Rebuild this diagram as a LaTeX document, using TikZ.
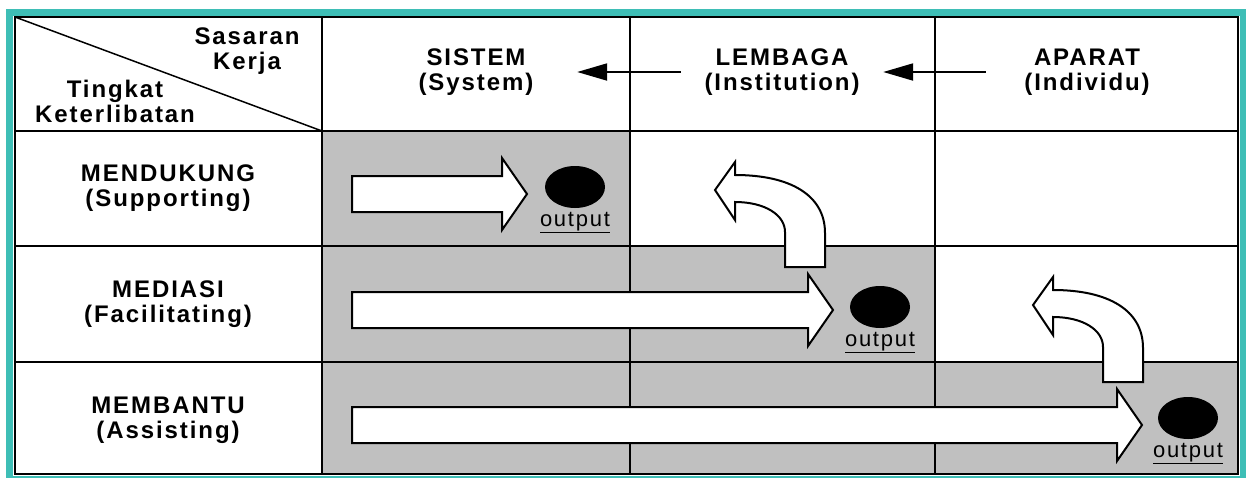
\documentclass[tikz,border=0pt]{standalone}
\usepackage{fontspec}
\setmainfont{Liberation Sans}[LetterSpace=8]
\usetikzlibrary{arrows.meta,positioning,shapes.geometric}

\definecolor{frameteal}{RGB}{62,190,182}
\definecolor{cellgray}{RGB}{192,192,192}

\tikzset{
  hdr/.style={font=\bfseries\fontsize{24}{25}\selectfont, align=center, inner sep=0pt},
  colhdr/.style={hdr, minimum width=202pt},
  dot/.style={ellipse, fill=black, minimum width=60pt, minimum height=42pt, inner sep=0pt},
  outlbl/.style={font=\fontsize{22}{24}\selectfont, inner sep=0pt},
  blockarr/.style={draw=black, fill=white, line width=2pt, line join=miter},
  hdrarrow/.style={line width=2pt, -{Triangle[length=30pt,width=17pt]}},
  gridline/.style={line width=2.5pt}
}

% straight block arrow: tail x, tip x, middle y
\newcommand{\blockarrow}[3]{%
  \draw[blockarr] (#1,#3-18) -- (#2-25,#3-18) -- (#2-25,#3-36) -- (#2,#3)
    -- (#2-25,#3+36) -- (#2-25,#3+18) -- (#1,#3+18) -- cycle;}

% bent block arrow, placed by its tip
\newcommand{\bentarrow}[2]{%
  \begin{scope}[shift={(#1,#2)}]
    \draw[blockarr] (20,-15) .. controls (75,-15) and (110,5) .. (110,43)
      -- (110,77) -- (70,77) -- (70,42) .. controls (70,25) and (50,12) .. (20,12)
      -- (20,30) -- (0,0) -- (20,-28) -- cycle;
  \end{scope}}

\begin{document}
\begin{tikzpicture}[x=1pt, y=-1pt]
    \useasboundingbox (0,0) rectangle (1246,477);

    % shaded cells
    \fill[cellgray] (322,131) rectangle (630,246);
    \fill[cellgray] (322,246) rectangle (935,362);
    \fill[cellgray] (322,362) rectangle (1238,474);

    % table
    \draw[frameteal, line width=7pt] (9.5,12) rectangle (1243,479);
    \draw[gridline] (15,17) rectangle (1238,474);
    \foreach \x in {322,630,935}
        \draw[gridline] (\x,17) -- (\x,474);
    \foreach \y in {131,246,362}
        \draw[gridline] (15,\y) -- (1238,\y);
    \draw[line width=1.5pt] (15,17) -- (322,131);

    % headings
    \node[hdr] (sasaran) at (247,51) {Sasaran\\Kerja};
    \node[hdr] (tingkat) at (115,101) {Tingkat\\Keterlibatan};
    \node[colhdr] (sistem) at (476,72) {SISTEM\\(System)};
    \node[colhdr] (lembaga) at (782,72) {LEMBAGA\\(Institution)};
    \node[colhdr] (aparat) at (1087,72) {APARAT\\(Individu)};
    \node[hdr] (mendukung) at (168,188) {MENDUKUNG\\(Supporting)};
    \node[hdr] (mediasi) at (168,304) {MEDIASI\\(Facilitating)};
    \node[hdr] (membantu) at (168,420) {MEMBANTU\\(Assisting)};

    \draw[hdrarrow] (lembaga.west) -- (sistem.east);
    \draw[hdrarrow] (aparat.west) -- (lembaga.east);

    % arrows
    \blockarrow{352}{527}{194}
    \blockarrow{352}{833}{310}
    \blockarrow{352}{1142}{425}
    \bentarrow{715}{190}
    \bentarrow{1033}{305}

    % outputs
    \node[dot] (dot1) at (575,187) {};
    \node[dot] (dot2) at (880,307) {};
    \node[dot] (dot3) at (1188,418) {};
    \node[outlbl, below=4pt of dot1] (out1) {\underline{output}};
    \node[outlbl, below=4pt of dot2] (out2) {\underline{output}};
    \node[outlbl, below=4pt of dot3] (out3) {\underline{output}};
\end{tikzpicture}
\end{document}
